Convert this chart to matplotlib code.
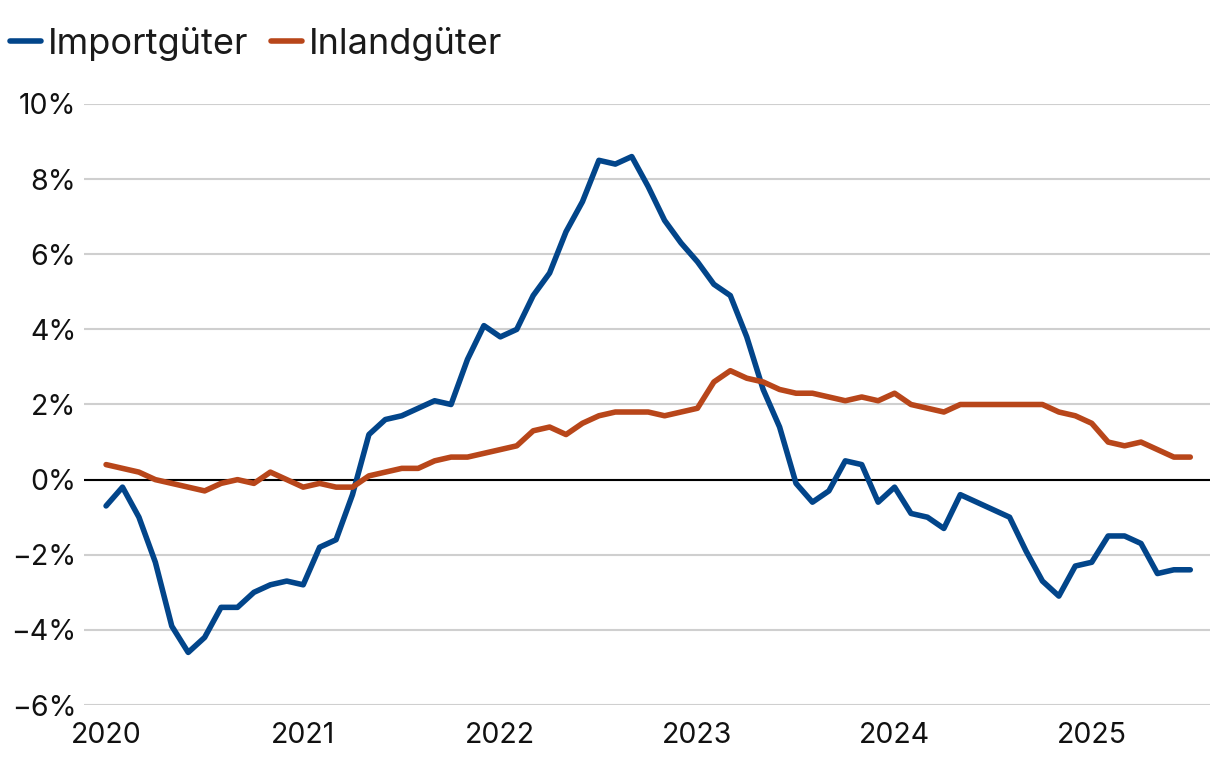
import matplotlib.pyplot as plt
from matplotlib.ticker import FuncFormatter
from matplotlib.lines import Line2D

plt.rcParams['font.family'] = ['Inter', 'DejaVu Sans']

# monthly values, Jan 2020 .. Jul 2025 (%)
importgueter = [-0.7, -0.2, -1.0, -2.2, -3.9, -4.6, -4.2, -3.4, -3.4, -3.0, -2.8, -2.7,
                -2.8, -1.8, -1.6, -0.4, 1.2, 1.6, 1.7, 1.9, 2.1, 2.0, 3.2, 4.1,
                3.8, 4.0, 4.9, 5.5, 6.6, 7.4, 8.5, 8.4, 8.6, 7.8, 6.9, 6.3,
                5.8, 5.2, 4.9, 3.8, 2.4, 1.4, -0.1, -0.6, -0.3, 0.5, 0.4, -0.6,
                -0.2, -0.9, -1.0, -1.3, -0.4, -0.6, -0.8, -1.0, -1.9, -2.7, -3.1, -2.3,
                -2.2, -1.5, -1.5, -1.7, -2.5, -2.4, -2.4]
inlandgueter = [0.4, 0.3, 0.2, 0.0, -0.1, -0.2, -0.3, -0.1, 0.0, -0.1, 0.2, 0.0,
                -0.2, -0.1, -0.2, -0.2, 0.1, 0.2, 0.3, 0.3, 0.5, 0.6, 0.6, 0.7,
                0.8, 0.9, 1.3, 1.4, 1.2, 1.5, 1.7, 1.8, 1.8, 1.8, 1.7, 1.8,
                1.9, 2.6, 2.9, 2.7, 2.6, 2.4, 2.3, 2.3, 2.2, 2.1, 2.2, 2.1,
                2.3, 2.0, 1.9, 1.8, 2.0, 2.0, 2.0, 2.0, 2.0, 2.0, 1.8, 1.7,
                1.5, 1.0, 0.9, 1.0, 0.8, 0.6, 0.6]
years = ['2020', '2021', '2022', '2023', '2024', '2025']
labels = ['Importgüter', 'Inlandgüter']

blue = '#02458A'
orange = '#B8461A'

fig = plt.figure(figsize=(12.2, 7.64), dpi=100)
ax = fig.add_axes([0.0689, 0.0772, 0.9229, 0.7867])

months = range(len(importgueter))
ax.plot(months, importgueter, color=blue, lw=4.0, solid_capstyle='round', solid_joinstyle='round', zorder=3)
ax.plot(months, inlandgueter, color=orange, lw=4.0, solid_capstyle='round', solid_joinstyle='round', zorder=3)

ax.set_ylim(-6, 10)
ax.set_xlim(-1.34, 67.2)
ax.set_yticks(range(-6, 11, 2))
ax.yaxis.set_major_formatter(FuncFormatter(lambda v, p: f"{v:.0f}%".replace('-', '\u2212')))
ax.set_xticks([12 * i for i in range(len(years))])
ax.set_xticklabels(years)
ax.grid(axis='y', color='#cfcfcf', lw=1.5)
ax.axhline(0, color='black', lw=1.5, zorder=2)
ax.set_axisbelow(True)
for s in ax.spines.values():
    s.set_visible(False)
ax.tick_params(length=0, labelsize=20.5, colors='#111111')
ax.tick_params(axis='y', pad=5.5)
ax.tick_params(axis='x', pad=12)

handles = [Line2D([], [], color=blue, lw=4.0, solid_capstyle='round'),
           Line2D([], [], color=orange, lw=4.0, solid_capstyle='round')]
fig.legend(handles, labels, loc='upper left', bbox_to_anchor=(-8 / 1220, 1 - 9 / 764), ncol=2, frameon=False,
           fontsize=26, handlelength=0.85, handletextpad=0.2, columnspacing=0.62,
           labelcolor='#1a1a1a', borderaxespad=0.3, borderpad=0.2)

fig.savefig('out.png', dpi=100)
